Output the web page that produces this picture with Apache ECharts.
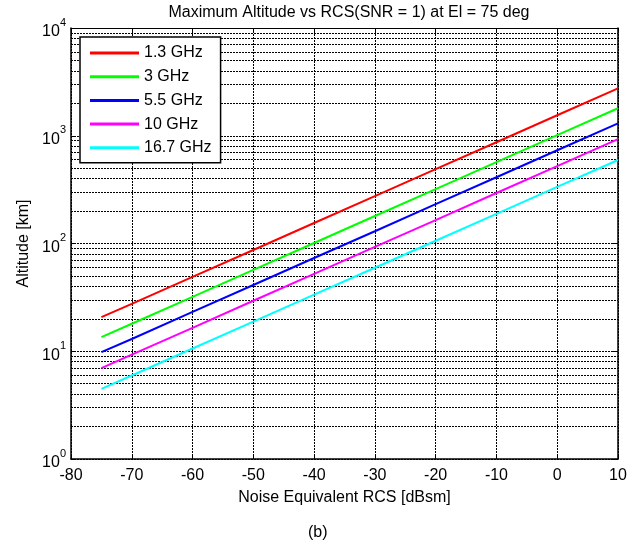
<!DOCTYPE html>
<html>
<head>
<meta charset="utf-8">
<script src="https://cdn.jsdelivr.net/npm/echarts@6/dist/echarts.min.js"></script>
<style>
html,body{margin:0;padding:0;background:#fff;}
#chart{width:638px;height:543px;}
</style>
</head>
<body>
<div id="chart"></div>
<script>
var rcs = [-75, -70, -60, -50, -40, -30, -20, -10, 0, 10];
var seriesNames = ['1.3 GHz', '3 GHz', '5.5 GHz', '10 GHz', '16.7 GHz'];
var alt13 = [20.7, 27.5, 49, 87, 155, 275, 490, 871, 1549, 2754];
var alt3 = [13.5, 18, 32, 56.9, 101, 180, 320, 569, 1012, 1799];
var alt55 = [9.8, 13.0, 23.2, 41.2, 73.3, 130, 232, 412, 733, 1303];
var alt10 = [6.97, 9.29, 16.5, 29.4, 52.2, 92.9, 165, 294, 522, 929];
var alt167 = [4.47, 5.96, 10.6, 18.8, 33.5, 59.6, 106, 188, 335, 596];
var seriesColors = ['#ff0000', '#00ff00', '#0000ff', '#ff00ff', '#00ffff'];
var xTicks = [-80, -70, -60, -50, -40, -30, -20, -10, 0, 10];
var yMinorGrid = [2,3,4,5,6,7,8,9,20,30,40,50,60,70,80,90,200,300,400,500,600,700,800,900,2000,3000,4000,5000,6000,7000,8000,9000];

var allAlt = [alt13, alt3, alt55, alt10, alt167];
var FONT = '"Liberation Sans", Arial, sans-serif';
var gridDash = {color: '#000', width: 1, type: [2, 1]};

var chart = echarts.init(document.getElementById('chart'), null, {renderer: 'canvas'});

var series = allAlt.map(function (arr, i) {
  var s = {
    name: seriesNames[i],
    type: 'line',
    data: rcs.map(function (x, j) { return [x, arr[j]]; }),
    showSymbol: false,
    symbol: 'none',
    lineStyle: {color: seriesColors[i], width: 2},
    itemStyle: {color: seriesColors[i]},
    z: 5,
    animation: false
  };
  if (i === 0) {
    s.markLine = {
      silent: true,
      symbol: 'none',
      label: {show: false},
      lineStyle: gridDash,
      animation: false,
      z: 1,
      data: yMinorGrid.map(function (v) { return {yAxis: v}; })
    };
  }
  return s;
});

var option = {
  backgroundColor: '#fff',
  animation: false,
  title: {
    text: 'Maximum Altitude vs RCS(SNR = 1) at El = 75 deg',
    left: 344, textAlign: 'center', top: 0,
    textStyle: {fontFamily: FONT, fontSize: 16, fontWeight: 'normal', color: '#000'}
  },
  graphic: [{
    type: 'text', left: 308, top: 525,
    style: {text: '(b)', fontFamily: FONT, fontSize: 16, fill: '#000'}
  }],
  legend: {
    orient: 'vertical',
    left: 80, top: 37,
    padding: [8, 9, 7, 10],
    itemGap: 7.7,
    itemWidth: 49, itemHeight: 3,
    icon: 'rect',
    borderColor: '#000', borderWidth: 1.5,
    backgroundColor: '#fff',
    textStyle: {fontFamily: FONT, fontSize: 16, color: '#000'},
    data: seriesNames,
    z: 10
  },
  grid: {left: 71, right: 20, top: 28, bottom: 84, containLabel: false},
  xAxis: [{
    type: 'value', min: -80, max: 10, interval: 10,
    name: 'Noise Equivalent RCS [dBsm]', nameLocation: 'middle', nameGap: 31,
    nameTextStyle: {fontFamily: FONT, fontSize: 16, color: '#000'},
    axisLine: {show: true, onZero: false, lineStyle: {color: '#000', width: 1.5}},
    axisTick: {show: true, inside: true, length: 5, lineStyle: {color: '#000'}},
    axisLabel: {fontFamily: FONT, fontSize: 16, color: '#000', margin: 9,
      formatter: function (v) { return xTicks.indexOf(v) >= 0 ? String(v) : ''; }},
    splitLine: {show: true, lineStyle: gridDash}
  }, {
    type: 'value', min: -80, max: 10, interval: 10, position: 'top',
    axisLine: {show: true, onZero: false, lineStyle: {color: '#000', width: 1}},
    axisTick: {show: true, inside: true, length: 5, lineStyle: {color: '#000'}},
    axisLabel: {show: false}, splitLine: {show: false}
  }],
  yAxis: [{
    type: 'log', logBase: 10, min: 1, max: 10000, interval: 1,
    name: 'Altitude [km]', nameLocation: 'middle', nameGap: 36, nameRotate: 90,
    nameTextStyle: {fontFamily: FONT, fontSize: 16, color: '#000'},
    axisLine: {show: true, onZero: false, lineStyle: {color: '#000', width: 1.5}},
    axisTick: {show: true, inside: true, length: 5, lineStyle: {color: '#000'}},
    minorTick: {show: false},
    axisLabel: {
      margin: 5, color: '#000',
      padding: [8, 0, 0, 0],
      formatter: function (v) {
        var e = Math.round(Math.log10(v));
        return '{b|10}{s|' + e + '}';
      },
      rich: {
        b: {fontFamily: FONT, fontSize: 16, color: '#000', lineHeight: 30},
        s: {fontFamily: FONT, fontSize: 11, color: '#000', lineHeight: 11, verticalAlign: 'top'}
      }
    },
    splitLine: {show: true, lineStyle: gridDash}
  }, {
    type: 'log', logBase: 10, min: 1, max: 10000, interval: 1, position: 'right',
    axisLine: {show: true, onZero: false, lineStyle: {color: '#000', width: 1.5}},
    axisTick: {show: true, inside: true, length: 5, lineStyle: {color: '#000'}},
    axisLabel: {show: false}, splitLine: {show: false}
  }],
  series: series
};
chart.setOption(option);
</script>
</body>
</html>
